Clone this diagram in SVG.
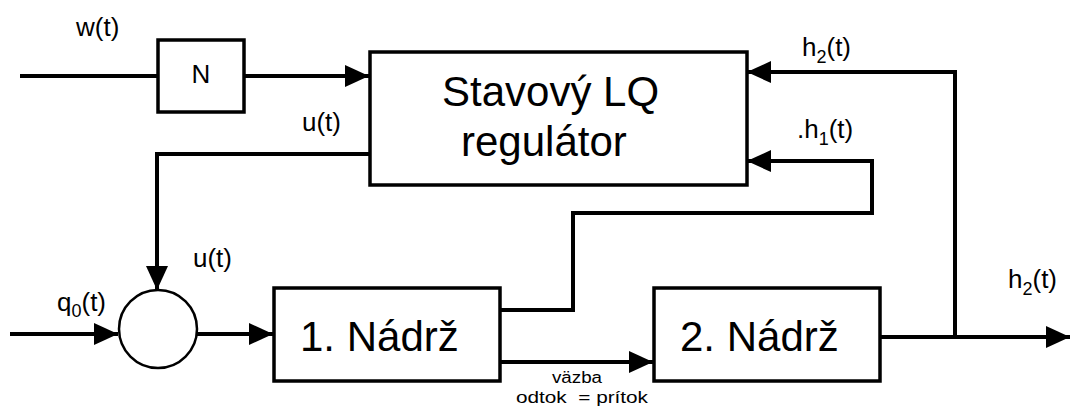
<svg xmlns="http://www.w3.org/2000/svg" width="1070" height="410" viewBox="0 0 1070 410">
<style>
.blk{fill:#fff;stroke:#000;stroke-width:3.5}
.ln{fill:none;stroke:#000;stroke-width:4}
.big{font-family:"Liberation Sans",Arial,sans-serif;font-size:42px;fill:#000}
.lbl{font-family:"Liberation Sans",Arial,sans-serif;font-size:26px;fill:#000}
.sub{font-size:18px}
.sm{font-family:"Liberation Sans",Arial,sans-serif;font-size:16px;fill:#000}
</style>
<defs>
<marker id="ar" markerUnits="userSpaceOnUse" markerWidth="24" markerHeight="22" refX="24" refY="11" orient="auto">
<path d="M0,0 L24,11 L0,22 z" fill="#000"/>
</marker>
</defs>
<rect width="1070" height="410" fill="#fff"/>
<g id="connectors">
<path class="ln" d="M20,76 H157"/>
<path class="ln" d="M245,76 H369" marker-end="url(#ar)"/>
<path class="ln" d="M369,154 H157 V290" marker-end="url(#ar)"/>
<path class="ln" d="M10,334 H118" marker-end="url(#ar)"/>
<path class="ln" d="M197,334 H273" marker-end="url(#ar)"/>
<path class="ln" d="M500,310 H573 V213 H872 V161 H747" marker-end="url(#ar)"/>
<path class="ln" d="M500,362 H653" marker-end="url(#ar)"/>
<path class="ln" d="M880,337 H1070" marker-end="url(#ar)"/>
<path class="ln" d="M955,337 V72 H747" marker-end="url(#ar)"/>
</g>
<g id="node-N">
<rect class="blk" x="158" y="40" width="86" height="72"/>
<text class="lbl" x="201" y="83" text-anchor="middle" font-size="25">N</text>
</g>
<g id="node-LQ">
<rect class="blk" x="370" y="52" width="377" height="133"/>
<text class="big" x="442" y="106">Stavový LQ</text>
<text class="big" x="461" y="156">regulátor</text>
</g>
<g id="node-sum">
<circle cx="158" cy="329" r="39" fill="#fff" stroke="#000" stroke-width="2.5"/>
</g>
<g id="node-tank1">
<rect class="blk" x="274" y="288" width="226" height="93"/>
<text class="big" x="300" y="351">1. Nádrž</text>
</g>
<g id="node-tank2">
<rect class="blk" x="654" y="288" width="226" height="93"/>
<text class="big" x="680" y="351">2. Nádrž</text>
</g>
<g id="labels">
<text class="lbl" x="76" y="36">w(t)</text>
<text class="lbl" x="302" y="131">u(t)</text>
<text class="lbl" x="193" y="267">u(t)</text>
<text class="lbl" x="57" y="311">q<tspan class="sub" dy="6">0</tspan><tspan dy="-6">(t)</tspan></text>
<text class="lbl" x="802" y="56">h<tspan class="sub" dy="7">2</tspan><tspan dy="-7">(t)</tspan></text>
<text class="lbl" x="797" y="138">.h<tspan class="sub" dy="7">1</tspan><tspan dy="-7">(t)</tspan></text>
<text class="lbl" x="1008" y="288">h<tspan class="sub" dy="7">2</tspan><tspan dy="-7">(t)</tspan></text>
<text class="sm" x="552" y="383" textLength="50" lengthAdjust="spacingAndGlyphs">väzba</text>
<text class="sm" x="516" y="403" xml:space="preserve" style="white-space:pre" textLength="132" lengthAdjust="spacingAndGlyphs">odtok  = prítok</text>
</g>
</svg>
